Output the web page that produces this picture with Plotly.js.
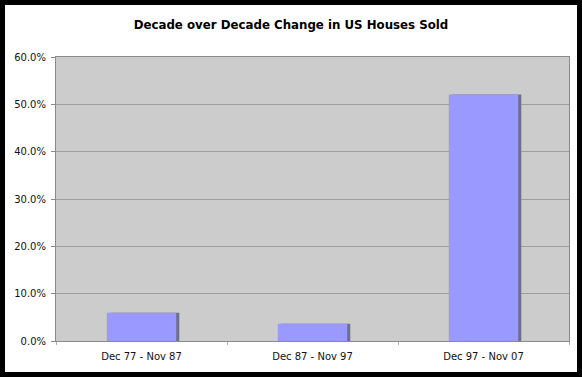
<!DOCTYPE html>
<html>
<head>
<meta charset="utf-8">
<script src="https://cdn.plot.ly/plotly-3.0.1.min.js"></script>
<style>
html,body{margin:0;padding:0;background:#000;width:582px;height:377px;overflow:hidden;}
#chart{position:absolute;left:5px;top:5px;width:572px;height:367px;background:#fff;}
</style>
</head>
<body>
<div id="chart"></div>
<script>
const categories = ["Dec 77 - Nov 87", "Dec 87 - Nov 97", "Dec 97 - Nov 07"];
const changeValues = [0.0598, 0.0365, 0.521];
const yTickVals = [0, 0.1, 0.2, 0.3, 0.4, 0.5, 0.6];
const chartTitle = "Decade over Decade Change in US Houses Sold";

const barW = 0.406;
const shadow = {
  type: "bar", x: categories, y: changeValues,
  width: barW, offset: -barW / 2 + 0.018,
  marker: {color: "#6f6f8a", line: {width: 0}},
  hoverinfo: "skip", showlegend: false
};
const main = {
  type: "bar", x: categories, y: changeValues,
  width: barW, offset: -barW / 2,
  marker: {color: "#9999ff", line: {width: 0}},
  showlegend: false
};

const layout = {
  width: 572, height: 367,
  margin: {l: 51, r: 8, t: 52, b: 31},
  paper_bgcolor: "#ffffff",
  plot_bgcolor: "#cccccc",
  barmode: "overlay",
  font: {family: "DejaVu Sans, Verdana, sans-serif", size: 10, color: "#111"},
  title: {
    text: "<b>" + chartTitle + "</b>",
    font: {family: "DejaVu Sans, Verdana, sans-serif", size: 11.8, color: "#000"},
    x: 0.5, xanchor: "center", y: 1 - 20 / 367, yanchor: "middle", yref: "container"
  },
  xaxis: {
    type: "category",
    tickson: "boundaries",
    ticks: "outside", ticklen: 3, tickcolor: "#b0b0b0",
    ticklabelstandoff: 6,
    showgrid: false,
    showline: true, linecolor: "#8a8a8a", linewidth: 1, mirror: true,
    tickfont: {size: 10, color: "#111"},
    fixedrange: true
  },
  yaxis: {
    range: [0, 0.6],
    tickvals: yTickVals,
    tickformat: ".1%",
    ticks: "outside", ticklen: 4, tickcolor: "#8a8a8a",
    ticklabelstandoff: 3,
    showgrid: true, gridcolor: "#9e9e9e", gridwidth: 1,
    showline: true, linecolor: "#8a8a8a", linewidth: 1, mirror: true,
    zeroline: false,
    tickfont: {size: 10, color: "#111"},
    fixedrange: true
  }
};

Plotly.newPlot("chart", [shadow, main], layout, {displayModeBar: false, staticPlot: true});
</script>
</body>
</html>
